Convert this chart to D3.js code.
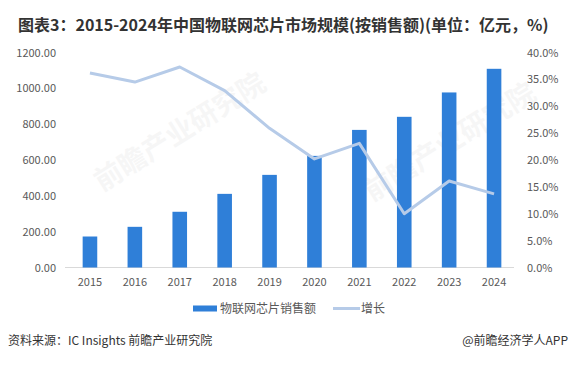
<!DOCTYPE html>
<html>
<head>
<meta charset="utf-8">
<script src="https://cdn.jsdelivr.net/npm/d3@7"></script>
<style>
  body { margin: 0; background: #fff; }
  svg { display: block; font-family: "Noto Sans CJK SC", "Microsoft YaHei", sans-serif; }
</style>
</head>
<body>
<div id="chart"></div>
<script>
var years = ["2015", "2016", "2017", "2018", "2019", "2020", "2021", "2022", "2023", "2024"];
var sales = [173, 227, 311, 411, 517, 623, 768, 841, 977, 1109];
var growth = [36.2, 34.5, 37.3, 32.9, 25.9, 20.2, 23.1, 10.0, 16.1, 13.7];
var leftTicks = [0, 200, 400, 600, 800, 1000, 1200];
var rightTicks = [0, 5, 10, 15, 20, 25, 30, 35, 40];

var width = 570, height = 370;
var barColor = "#2f7fd8", lineColor = "#b6cbe8", labelColor = "#595959";

var svg = d3.select("#chart").append("svg")
  .attr("width", width).attr("height", height)
  .style("background", "white");

// faint watermark
[[185, 140], [455, 150]].forEach(function (p) {
  svg.append("text")
    .attr("transform", "translate(" + p[0] + "," + p[1] + ") rotate(-32)")
    .attr("text-anchor", "middle")
    .attr("font-size", 28).attr("font-weight", "bold")
    .attr("fill", "#000").attr("opacity", 0.03)
    .text("前瞻产业研究院");
});

var x = d3.scaleBand().domain(years).range([67.5, 516.5]).paddingInner(0.675).paddingOuter(0.3375);
var yL = d3.scaleLinear().domain([0, 1200]).range([267.5, 52.5]);
var yR = d3.scaleLinear().domain([0, 40]).range([267.5, 52.5]);

// x axis line
svg.append("line")
  .attr("x1", 65).attr("x2", 514)
  .attr("y1", yL(0)).attr("y2", yL(0))
  .attr("stroke", "#d9d9d9").attr("stroke-width", 1);

svg.append("g").selectAll("text").data(years).enter().append("text")
  .attr("x", function (d) { return x(d) + x.bandwidth() / 2; })
  .attr("y", 286)
  .attr("text-anchor", "middle")
  .attr("font-size", 11).attr("fill", labelColor)
  .text(function (d) { return d; });

svg.append("g").selectAll("text").data(leftTicks).enter().append("text")
  .attr("x", 56).attr("y", function (d) { return yL(d) + 4; })
  .attr("text-anchor", "end")
  .attr("font-size", 11).attr("fill", labelColor)
  .text(function (d) { return d.toFixed(2); });

svg.append("g").selectAll("text").data(rightTicks).enter().append("text")
  .attr("x", 527).attr("y", function (d) { return yR(d) + 4; })
  .attr("text-anchor", "start")
  .attr("font-size", 11).attr("fill", labelColor)
  .text(function (d) { return d.toFixed(1) + "%"; });

svg.append("g").selectAll("rect").data(sales).enter().append("rect")
  .attr("x", function (d, i) { return x(years[i]); })
  .attr("width", x.bandwidth())
  .attr("y", function (d) { return yL(d); })
  .attr("height", function (d) { return yL(0) - yL(d); })
  .attr("fill", barColor);

var line = d3.line()
  .x(function (d, i) { return x(years[i]) + x.bandwidth() / 2; })
  .y(function (d) { return yR(d); });

svg.append("path").datum(growth)
  .attr("d", line)
  .attr("fill", "none")
  .attr("stroke", lineColor).attr("stroke-width", 3)
  .attr("stroke-linejoin", "round");

// legend
var legend = svg.append("g").attr("font-size", 12).attr("fill", labelColor);
legend.append("rect").attr("x", 193).attr("y", 305.5).attr("width", 24).attr("height", 6).attr("fill", barColor);
legend.append("text").attr("x", 220).attr("y", 312.5).attr("fill", labelColor).text("物联网芯片销售额");
legend.append("line").attr("x1", 333).attr("x2", 360).attr("y1", 308.5).attr("y2", 308.5)
  .attr("stroke", lineColor).attr("stroke-width", 3);
legend.append("text").attr("x", 361).attr("y", 312.5).attr("fill", labelColor).text("增长");

// title and footer
svg.append("text").attr("x", 18).attr("y", 31)
  .attr("font-size", 16).attr("font-weight", "bold").attr("fill", "#333")
  .text("图表3：2015-2024年中国物联网芯片市场规模(按销售额)(单位：亿元，%)");

svg.append("text").attr("x", 8).attr("y", 345)
  .attr("font-size", 12).attr("fill", "#333")
  .text("资料来源：IC Insights 前瞻产业研究院");

svg.append("text").attr("x", 568).attr("y", 345)
  .attr("text-anchor", "end")
  .attr("font-size", 12).attr("fill", "#333")
  .text("@前瞻经济学人APP");
</script>
</body>
</html>
